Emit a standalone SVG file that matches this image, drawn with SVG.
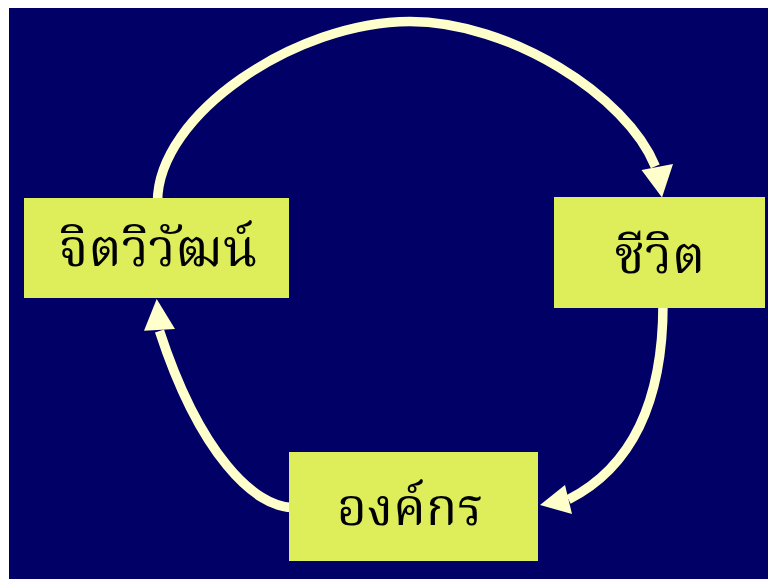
<svg xmlns="http://www.w3.org/2000/svg" width="768" height="580" viewBox="0 0 768 580">
  <style>
    .bg { fill: #000066; }
    .box { fill: #DDEE5A; stroke: none; }
    .lbl { font-family: "Noto Serif Thai", "Noto Sans Thai Looped", "Norasi", "Garuda", "Loma", "Noto Sans Thai", "Noto Sans", "DejaVu Sans", serif; font-size: 52px; fill: #000000; text-anchor: middle; }
    .shaft { fill: none; stroke: #FFFFCC; stroke-width: 9.5; stroke-linecap: butt; }
    .head { fill: #FFFFCC; stroke: none; }
  </style>
  <rect x="0" y="0" width="768" height="580" fill="#FFFFFF"/>
  <rect class="bg" x="9" y="8" width="759" height="571"/>

  <g id="connectors">
    <path class="shaft" d="M157.5,202 C157.5,114 296.4,21.5 410,21.5 C508.8,21.5 626.4,95 655.3,166.4"/>
    <polygon class="head" points="662,197.5 641.5,170 673,164"/>
    <path class="shaft" d="M663,304 C663,392 638,464 568.5,499.5"/>
    <polygon class="head" points="540,505 565,485 572,514"/>
    <path class="shaft" d="M292,507.5 C255,507 200,455 159.5,331"/>
    <polygon class="head" points="156.7,299 144,330.7 175,329"/>
  </g>

  <g id="node-jitwiwat">
    <rect class="box" x="24" y="198" width="265" height="100"/>
    <text class="lbl" x="158" y="266">จิตวิวัฒน์</text>
  </g>
  <g id="node-chiwit">
    <rect class="box" x="554" y="197" width="211" height="111"/>
    <text class="lbl" x="660" y="273">ชีวิต</text>
  </g>
  <g id="node-ongkon">
    <rect class="box" x="289" y="452" width="249" height="109"/>
    <text class="lbl" x="410" y="525">องค์กร</text>
  </g>
</svg>
